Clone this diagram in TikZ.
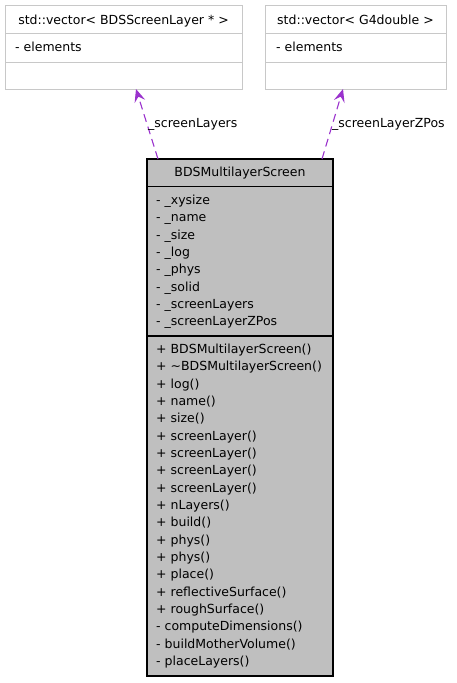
\documentclass[tikz,border=0pt]{standalone}
\usepackage{fontspec}
\setmainfont{DejaVu Sans}
\usetikzlibrary{arrows.meta}
\definecolor{edgepurple}{HTML}{9A32CD}
\definecolor{boxgray}{HTML}{BFBFBF}
\definecolor{lightborder}{HTML}{C8C8C8}
\tikzset{
  txt/.style={inner sep=0pt, font=\fontsize{12.5}{14}\selectfont, anchor=base west},
  ctxt/.style={inner sep=0pt, font=\fontsize{12.5}{14}\selectfont, anchor=base},
  usedby/.style={draw=edgepurple, line width=1.1pt, dashed, dash pattern=on 8pt off 5pt,
    -{Stealth[length=13pt,width=11pt,inset=5pt]}},
}
\begin{document}
\begin{tikzpicture}[x=1pt,y=-1pt]
\useasboundingbox (0,0) rectangle (457,683);
% top-left class box
\draw[lightborder, line width=1pt] (5,5) rectangle (242,89);
\draw[lightborder, line width=1pt] (5,33) -- (242,33) (5,62) -- (242,62);
\node[ctxt] (vecA) at (123.5,24.5) {std::vector< BDSScreenLayer * >};
\node[txt] (vecAel) at (15,51) {- elements};
\coordinate (vecAbot) at (136,89);
% top-right class box
\draw[lightborder, line width=1pt] (265,5) rectangle (446,89);
\draw[lightborder, line width=1pt] (265,33) -- (446,33) (265,62) -- (446,62);
\node[ctxt] (vecB) at (355.5,24.5) {std::vector< G4double >};
\node[txt] (vecBel) at (276,51) {- elements};
\coordinate (vecBbot) at (343,89);
% main class box
\draw[fill=boxgray, draw=black, line width=1.3pt] (147,159) rectangle (333,676);
\draw[black, line width=1.3pt] (147,186.5) -- (333,186.5) (147,336) -- (333,336);
\node[ctxt] (title) at (240,176) {BDSMultilayerScreen};
\coordinate (mainA) at (158,159);
\coordinate (mainB) at (322,159);
\foreach \t [count=\i from 0] in {{- \_xysize},{- \_name},{- \_size},{- \_log},{- \_phys},{- \_solid},{- \_screenLayers},{- \_screenLayerZPos}}
  \node[txt] (attr\i) at (156,204.5+17.35*\i) {\t};
\foreach \t [count=\i from 0] in {{+ BDSMultilayerScreen()},{+ \textasciitilde BDSMultilayerScreen()},{+ log()},{+ name()},{+ size()},{+ screenLayer()},{+ screenLayer()},{+ screenLayer()},{+ screenLayer()},{+ nLayers()},{+ build()},{+ phys()},{+ phys()},{+ place()},{+ reflectiveSurface()},{+ roughSurface()},{- computeDimensions()},{- buildMotherVolume()},{- placeLayers()}}
  \node[txt] (meth\i) at (156,353.5+17.34*\i) {\t};
% connectors
\draw[usedby] (mainA) -- (vecAbot);
\draw[usedby] (mainB) -- (vecBbot);
\node[txt] (lblA) at (148,127) {\_screenLayers};
\node[txt] (lblB) at (332,127) {\_screenLayerZPos};
\end{tikzpicture}
\end{document}
